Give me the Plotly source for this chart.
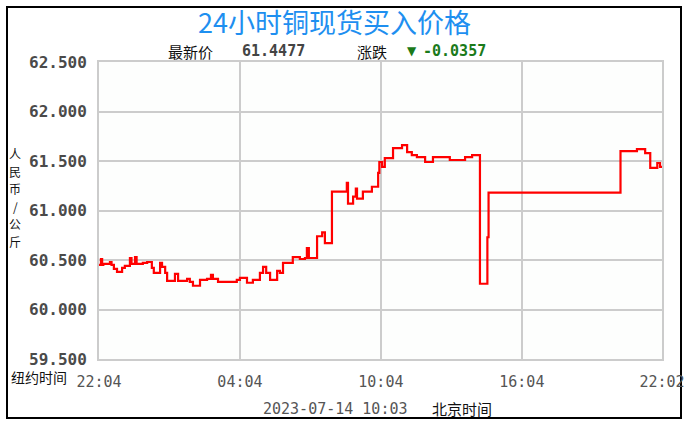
import plotly.graph_objects as go

# ---- data (minutes since 22:04 New York time, price CNY/kg) ----
minutes = [0, 5, 8, 11, 28, 32, 38, 46, 59, 66, 79, 83, 92, 96, 112, 123, 135, 140,
           156, 161, 169, 174, 194, 202, 225, 232, 240, 258, 276, 286, 291, 304, 335,
           352, 360, 378, 393, 411, 419, 427, 437, 455, 462, 470, 488, 495, 513, 526,
           531, 536, 557, 570, 577, 595, 633, 636, 649, 656, 659, 674, 697, 713, 716,
           723, 730, 751, 774, 787, 799, 812, 833, 853, 896, 935, 953, 973, 992, 995,
           1332, 1374, 1395, 1408, 1426, 1433, 1438]
prices = [60.45, 60.51, 60.45, 60.46, 60.48, 60.45, 60.41, 60.38, 60.42, 60.44, 60.52,
          60.46, 60.53, 60.46, 60.47, 60.48, 60.42, 60.37, 60.47, 60.43, 60.37, 60.29,
          60.36, 60.29, 60.31, 60.28, 60.24, 60.30, 60.31, 60.35, 60.31, 60.28, 60.28,
          60.30, 60.32, 60.27, 60.30, 60.37, 60.43, 60.37, 60.30, 60.39, 60.37, 60.47,
          60.47, 60.53, 60.51, 60.52, 60.62, 60.52, 60.74, 60.78, 60.67, 61.19, 61.28,
          61.07, 61.14, 61.22, 61.12, 61.19, 61.24, 61.38, 61.49, 61.44, 61.53, 61.63,
          61.66, 61.59, 61.56, 61.54, 61.49, 61.54, 61.51, 61.54, 61.56, 60.26, 60.73,
          61.18, 61.60, 61.62, 61.58, 61.43, 61.48, 61.44, 61.4477]

x_tickvals = [0, 360, 720, 1080, 1438]
x_ticktext = ["22:04", "04:04", "10:04", "16:04", "22:02"]
y_tickvals = [59.5, 60.0, 60.5, 61.0, 61.5, 62.0, 62.5]
y_ticktext = ["59.500", "60.000", "60.500", "61.000", "61.500", "62.000", "62.500"]

title_text = "24小时铜现货买入价格"
latest_label = "最新价"
latest_value = "61.4477"
change_label = "涨跌"
change_value = "-0.0357"
y_label = "人民币/公斤"
x_label = "纽约时间"
date_text = "2023-07-14 10:03"
tz_text = "北京时间"

# ---- layout geometry ----
L, R, T, B = 99, 662, 62, 359
W, H = 687, 429


def px(x):
    return (x - L) / (R - L)


def py(y):
    return (B - y) / (B - T)


CJK = "Noto Sans CJK SC"
MONO = "DejaVu Sans Mono"

fig = go.Figure()
fig.add_trace(go.Scatter(
    x=minutes, y=prices, mode="lines", line=dict(color="#ff0000", width=2.2, shape="hv"),
    hoverinfo="skip", showlegend=False))

fig.update_layout(
    width=W, height=H, autosize=False,
    margin=dict(l=L, r=W - R, t=T, b=H - B, pad=0, autoexpand=False),
    paper_bgcolor="#ffffff",
    plot_bgcolor="#fdfefd",
    showlegend=False,
    xaxis=dict(range=[0, 1438], tickvals=x_tickvals, ticktext=x_ticktext, automargin=False,
               showgrid=True, gridcolor="#cccccc", gridwidth=2,
               showline=True, linecolor="#cccccc", linewidth=2, mirror=True,
               zeroline=False, ticks="", ticklabelstandoff=8,
               tickfont=dict(family=MONO, size=15, color="#555555")),
    yaxis=dict(range=[59.5, 62.5], tickvals=y_tickvals, ticktext=y_ticktext, automargin=False,
               showgrid=True, gridcolor="#cccccc", gridwidth=2,
               showline=True, linecolor="#cccccc", linewidth=2, mirror=True,
               zeroline=False, ticks="", ticklabelstandoff=7,
               tickfont=dict(family=MONO, size=16, color="#4a4a4a", weight="bold")),
)

# outer border
fig.add_shape(type="rect", xref="paper", yref="paper",
              x0=px(7), x1=px(681), y0=py(418), y1=py(7),
              line=dict(color="#000000", width=2), fillcolor="rgba(0,0,0,0)", layer="below")

ann = []
ann.append(dict(text=title_text, x=px(334), y=py(21), xanchor="center", yanchor="middle",
                font=dict(family=CJK, size=27, color="#1e8ff0")))
ann.append(dict(text=latest_label, x=px(190), y=py(51), xanchor="center", yanchor="middle",
                font=dict(family=CJK, size=15, color="#111111")))
ann.append(dict(text=latest_value, x=px(240), y=py(51), xanchor="left", yanchor="middle",
                font=dict(family=MONO, size=15, color="#444444", weight="bold")))
ann.append(dict(text=change_label, x=px(372), y=py(51), xanchor="center", yanchor="middle",
                font=dict(family=CJK, size=15, color="#111111")))
ann.append(dict(text="▼", x=px(412), y=py(51), xanchor="center", yanchor="middle",
                font=dict(family="DejaVu Sans", size=12, color="#1a7a1a")))
ann.append(dict(text=change_value, x=px(421), y=py(51), xanchor="left", yanchor="middle",
                font=dict(family=MONO, size=15, color="#1a7a1a", weight="bold")))
for i, ch in enumerate(y_label):
    ann.append(dict(text=ch, x=px(15), y=py(153.5 + 17.6 * i), xanchor="center",
                    yanchor="middle", font=dict(family=CJK, size=12, color="#111111")))
ann.append(dict(text=x_label, x=px(9), y=py(377), xanchor="left", yanchor="middle",
                font=dict(family=CJK, size=14, color="#111111")))
ann.append(dict(text=date_text, x=px(335), y=py(409), xanchor="center", yanchor="middle",
                font=dict(family=MONO, size=15, color="#555555")))
ann.append(dict(text=tz_text, x=px(462), y=py(409), xanchor="center", yanchor="middle",
                font=dict(family=CJK, size=15, color="#111111")))
for a in ann:
    a.update(xref="paper", yref="paper", showarrow=False)
fig.update_layout(annotations=ann)

fig.write_html("out.html", config={"displayModeBar": False},
               post_script="document.body.style.margin='0';document.body.style.overflow='hidden';")
